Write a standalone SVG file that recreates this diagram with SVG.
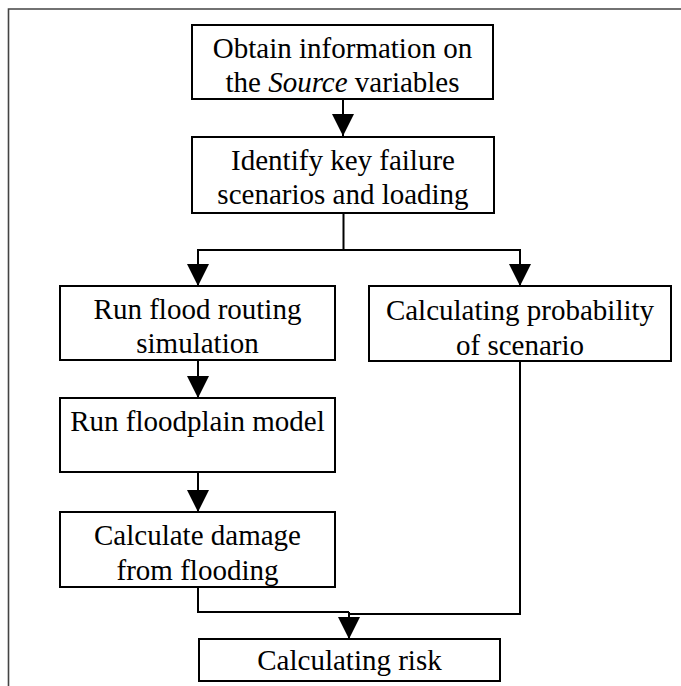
<svg xmlns="http://www.w3.org/2000/svg" width="681" height="686" viewBox="0 0 681 686">
  <style>
    .box { fill: #fff; stroke: #000; stroke-width: 2; }
    .lbl { font-family: 'Liberation Serif', 'Tinos', 'Times New Roman', 'DejaVu Serif', serif; font-size: 29px; fill: #000; text-anchor: middle; }
    .wire { fill: none; stroke: #000; stroke-width: 2; }
    .frame { fill: none; stroke: #444; stroke-width: 1.6; }
  </style>
  <defs>
    <marker id="head" markerUnits="userSpaceOnUse" markerWidth="24" markerHeight="24" viewBox="0 0 24 24" refX="22" refY="12" orient="auto">
      <path d="M0,1 L22,12 L0,23 Z" fill="#000"/>
    </marker>
  </defs>

  <rect width="681" height="686" fill="#fff"/>
  <!-- page frame: left and top edges -->
  <path class="frame" d="M8.5,686 V9 H681"/>

  <g id="connectors">
    <line class="wire" x1="343" y1="99" x2="343" y2="136" marker-end="url(#head)"/>
    <path class="wire" d="M343.5,213 V250 H198 V286" marker-end="url(#head)"/>
    <path class="wire" d="M343.5,250 H520 V286" marker-end="url(#head)"/>
    <line class="wire" x1="198" y1="360" x2="198" y2="398" marker-end="url(#head)"/>
    <line class="wire" x1="198" y1="472" x2="198" y2="512" marker-end="url(#head)"/>
    <path class="wire" d="M198,587 V612 H349"/>
    <path class="wire" d="M520,361 V614 H349"/>
    <line class="wire" x1="349" y1="612" x2="349" y2="639" marker-end="url(#head)"/>
  </g>

  <g id="obtain-info">
    <rect class="box" x="192" y="25" width="301" height="74"/>
    <text class="lbl" x="342.5" y="58">Obtain information on</text>
    <text class="lbl" x="342.5" y="92">the <tspan font-style="italic">Source</tspan> variables</text>
  </g>

  <g id="identify-scenarios">
    <rect class="box" x="192" y="137" width="302" height="76"/>
    <text class="lbl" x="343" y="170">Identify key failure</text>
    <text class="lbl" x="343" y="204">scenarios and loading</text>
  </g>

  <g id="flood-routing">
    <rect class="box" x="60" y="286" width="275" height="74"/>
    <text class="lbl" x="197.5" y="319">Run flood routing</text>
    <text class="lbl" x="197.5" y="353">simulation</text>
  </g>

  <g id="scenario-probability">
    <rect class="box" x="369" y="286" width="302" height="75"/>
    <text class="lbl" x="520" y="320">Calculating probability</text>
    <text class="lbl" x="520" y="355">of scenario</text>
  </g>

  <g id="floodplain-model">
    <rect class="box" x="60" y="398" width="275" height="74"/>
    <text class="lbl" x="197.5" y="431">Run floodplain model</text>
  </g>

  <g id="flood-damage">
    <rect class="box" x="60" y="512" width="275" height="75"/>
    <text class="lbl" x="197.5" y="545">Calculate damage</text>
    <text class="lbl" x="197.5" y="580">from flooding</text>
  </g>

  <g id="risk">
    <rect class="box" x="199" y="639" width="301" height="42"/>
    <text class="lbl" x="349.5" y="670">Calculating risk</text>
  </g>
</svg>
